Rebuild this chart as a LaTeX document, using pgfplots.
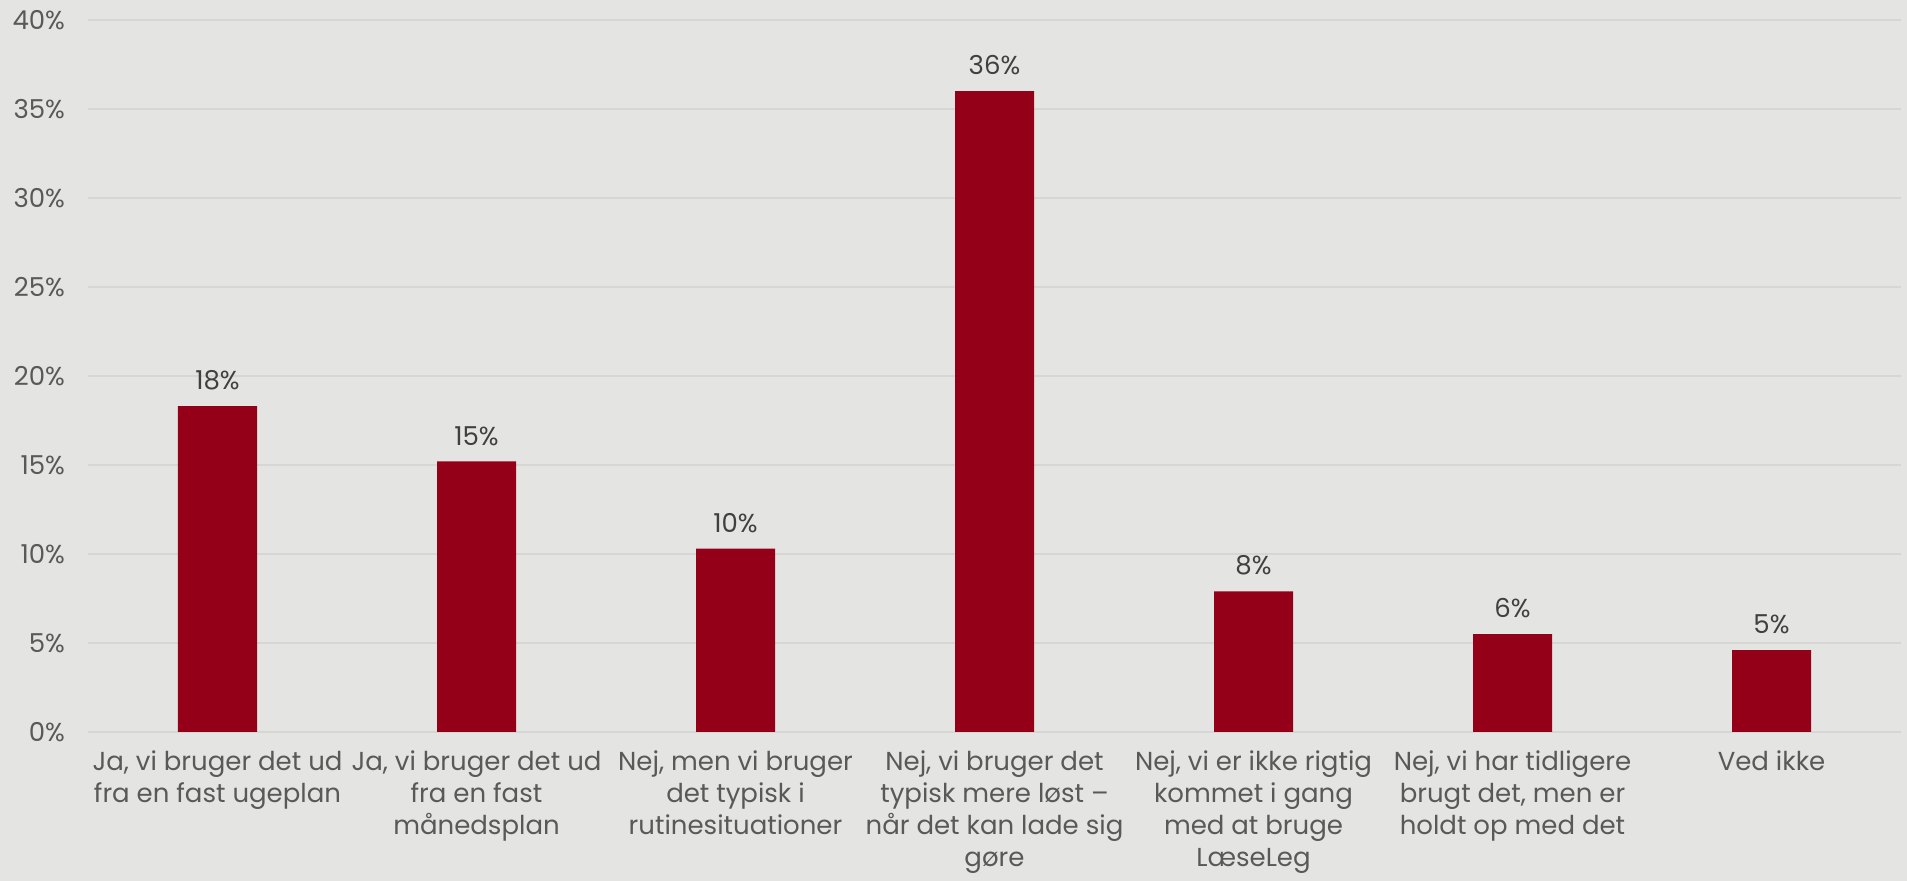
\documentclass[border=0pt]{standalone}
\usepackage{pgfplots}
\pgfplotsset{compat=1.18}
\usepackage{fontspec}
\setmainfont{Poppins}
\definecolor{bg}{HTML}{E4E4E2}
\definecolor{barred}{HTML}{950019}
\definecolor{gridc}{HTML}{D6D6D4}
\definecolor{txt}{HTML}{595959}
\definecolor{lbl}{HTML}{404040}
\begin{document}
\begin{tikzpicture}
\fill[bg] (-44pt,-74.5pt) rectangle (909.5pt,366pt);
\useasboundingbox (-44pt,-74.5pt) rectangle (909.5pt,366pt);
\begin{axis}[
  at={(0,0)}, anchor=south west,
  scale only axis,
  width=906.5pt, height=356pt,
  xmin=-0.5, xmax=6.5,
  ymin=0, ymax=40,
  ytick={0,5,...,40},
  yticklabel={\pgfmathprintnumber{\tick}\%},
  /pgf/number format/assume math mode=true,
  axis line style={draw=none},
  major tick length=0pt,
  ymajorgrids,
  grid style={gridc, line width=0.8pt},
  yticklabel style={font=\fontsize{13}{15}\selectfont, text=txt, anchor=east, xshift=-8pt},
  xtick={0,...,6},
  xticklabels={
    {Ja, vi bruger det ud\\fra en fast ugeplan},
    {Ja, vi bruger det ud\\fra en fast\\månedsplan},
    {Nej, men vi bruger\\det typisk i\\rutinesituationer},
    {Nej, vi bruger det\\typisk mere løst --\\når det kan lade sig\\gøre},
    {Nej, vi er ikke rigtig\\kommet i gang\\med at bruge\\LæseLeg},
    {Nej, vi har tidligere\\brugt det, men er\\holdt op med det},
    {Ved ikke}},
  xticklabel style={font=\fontsize{13}{16}\selectfont, text=txt, align=center, anchor=north, yshift=-6pt},
  ybar, bar width=39.5pt,
  nodes near coords={\pgfmathprintnumber[fixed,precision=0]{\pgfplotspointmeta}\%},
  every node near coord/.append style={font=\fontsize{13}{15}\selectfont, text=lbl, yshift=4.5pt},
  clip=false,
]
\addplot[fill=barred, draw=none] coordinates {
  (0,18.3) (1,15.2) (2,10.3) (3,36.0) (4,7.9) (5,5.5) (6,4.6)
};
\end{axis}
\end{tikzpicture}
\end{document}
